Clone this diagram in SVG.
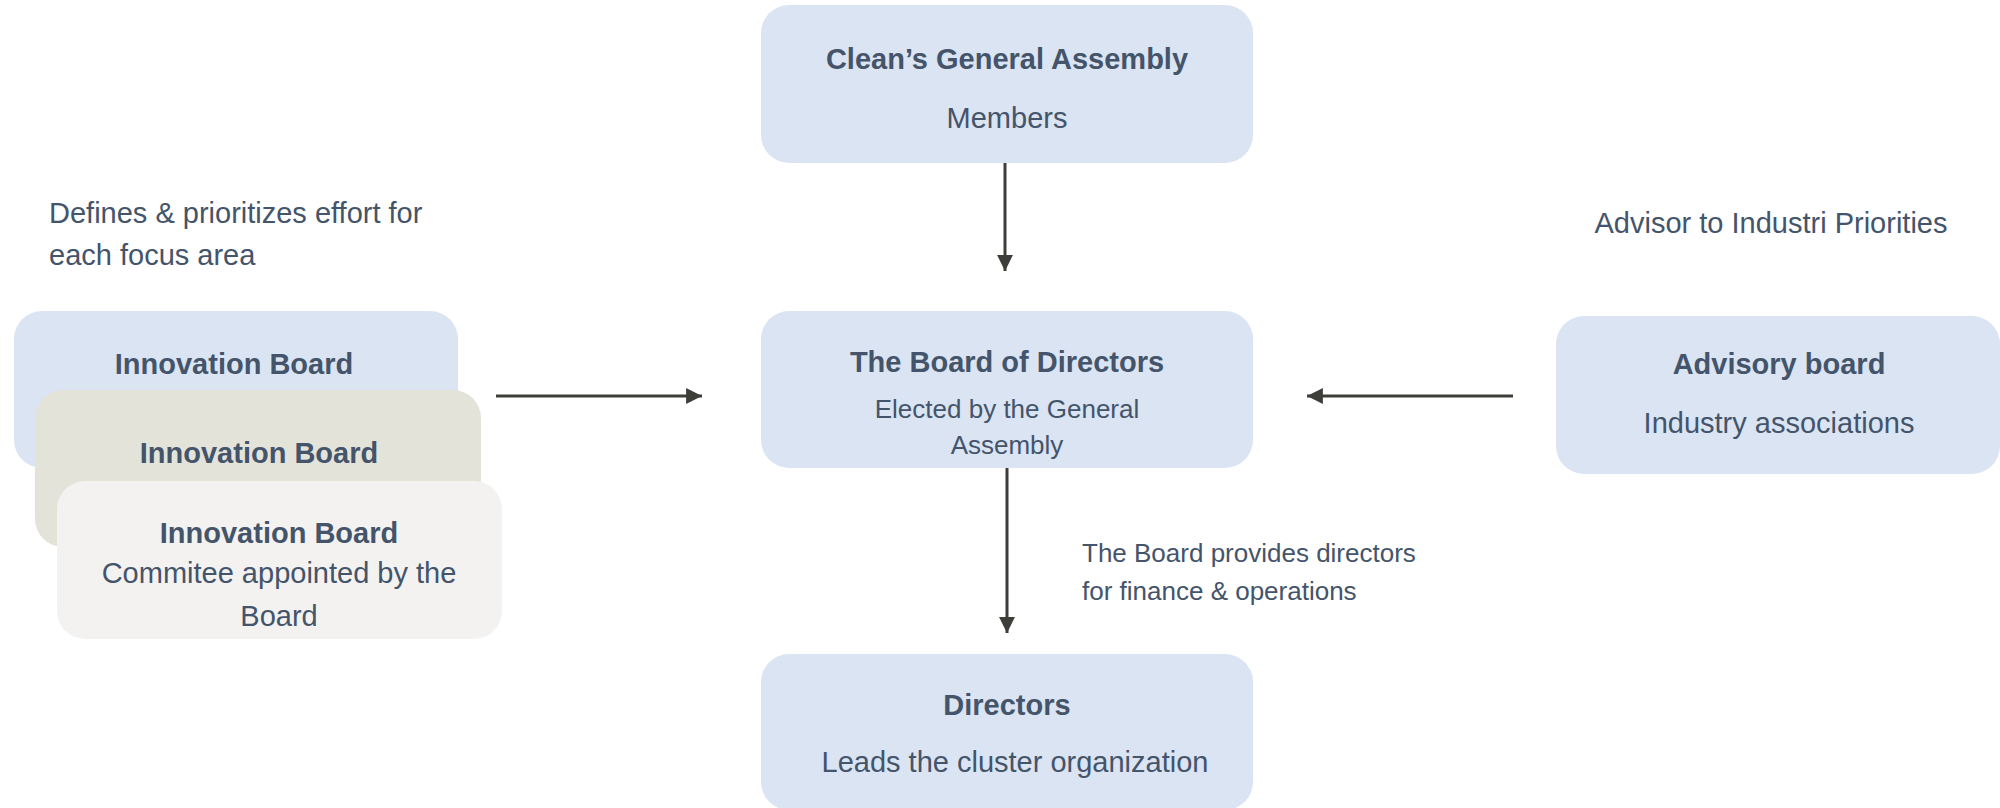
<svg xmlns="http://www.w3.org/2000/svg" width="2000" height="808" viewBox="0 0 2000 808">
<defs>
<style>
.t{font-family:"Liberation Sans",Arial,Helvetica,sans-serif;fill:#44546a;}
.b{font-weight:bold;font-size:29px;}
.r{font-size:29px;}
.s{font-size:26px;}
.blue{fill:#dae4f2;}
.beige{fill:#e4e3d9;}
.grey{fill:#f3f2f0;}
.c{stroke:#3d3d3a;stroke-width:3;fill:none;}
</style>
<marker id="ah" viewBox="0 0 10 10" refX="10" refY="5" markerWidth="5.3" markerHeight="5.3" markerUnits="strokeWidth" orient="auto">
<path d="M0,0 L10,5 L0,10 Z" fill="#3d3d3a"/>
</marker>
</defs>
<rect width="2000" height="808" fill="#ffffff"/>

<g id="annotations">
<text class="t r" x="49" y="223">Defines &amp; prioritizes effort for</text>
<text class="t r" x="49" y="265">each focus area</text>
<text class="t r" x="1771" y="233" text-anchor="middle">Advisor to Industri Priorities</text>
<text class="t s" x="1082" y="562">The Board provides directors</text>
<text class="t s" x="1082" y="600">for finance &amp; operations</text>
</g>

<g id="general-assembly">
<rect class="blue" x="761" y="5" width="492" height="158" rx="28"/>
<text class="t b" x="1007" y="69" text-anchor="middle">Clean’s General Assembly</text>
<text class="t r" x="1007" y="128" text-anchor="middle">Members</text>
</g>

<g id="board-of-directors">
<rect class="blue" x="761" y="311" width="492" height="157" rx="28"/>
<text class="t b" x="1007" y="372" text-anchor="middle">The Board of Directors</text>
<text class="t s" x="1007" y="418" text-anchor="middle">Elected by the General</text>
<text class="t s" x="1007" y="454" text-anchor="middle">Assembly</text>
</g>

<g id="directors">
<rect class="blue" x="761" y="654" width="492" height="156" rx="28"/>
<text class="t b" x="1007" y="715" text-anchor="middle">Directors</text>
<text class="t r" x="1015" y="772" text-anchor="middle">Leads the cluster organization</text>
</g>

<g id="advisory-board">
<rect class="blue" x="1556" y="316" width="444" height="158" rx="28"/>
<text class="t b" x="1779" y="374" text-anchor="middle">Advisory board</text>
<text class="t r" x="1779" y="433" text-anchor="middle">Industry associations</text>
</g>

<g id="innovation-board-1">
<rect class="blue" x="14" y="311" width="444" height="157" rx="28"/>
<text class="t b" x="234" y="374" text-anchor="middle">Innovation Board</text>
</g>

<g id="innovation-board-2">
<rect class="beige" x="35" y="390" width="446" height="157" rx="28"/>
<text class="t b" x="259" y="463" text-anchor="middle">Innovation Board</text>
</g>

<g id="innovation-board-3">
<rect class="grey" x="57" y="481" width="445" height="158" rx="28"/>
<text class="t b" x="279" y="543" text-anchor="middle">Innovation Board</text>
<text class="t r" x="279" y="583" text-anchor="middle">Commitee appointed by the</text>
<text class="t r" x="279" y="626" text-anchor="middle">Board</text>
</g>

<g id="connectors">
<line class="c" x1="1005" y1="163" x2="1005" y2="271" marker-end="url(#ah)"/>
<line class="c" x1="1007" y1="468" x2="1007" y2="633" marker-end="url(#ah)"/>
<line class="c" x1="496" y1="396" x2="702" y2="396" marker-end="url(#ah)"/>
<line class="c" x1="1513" y1="396" x2="1307" y2="396" marker-end="url(#ah)"/>
</g>
</svg>
